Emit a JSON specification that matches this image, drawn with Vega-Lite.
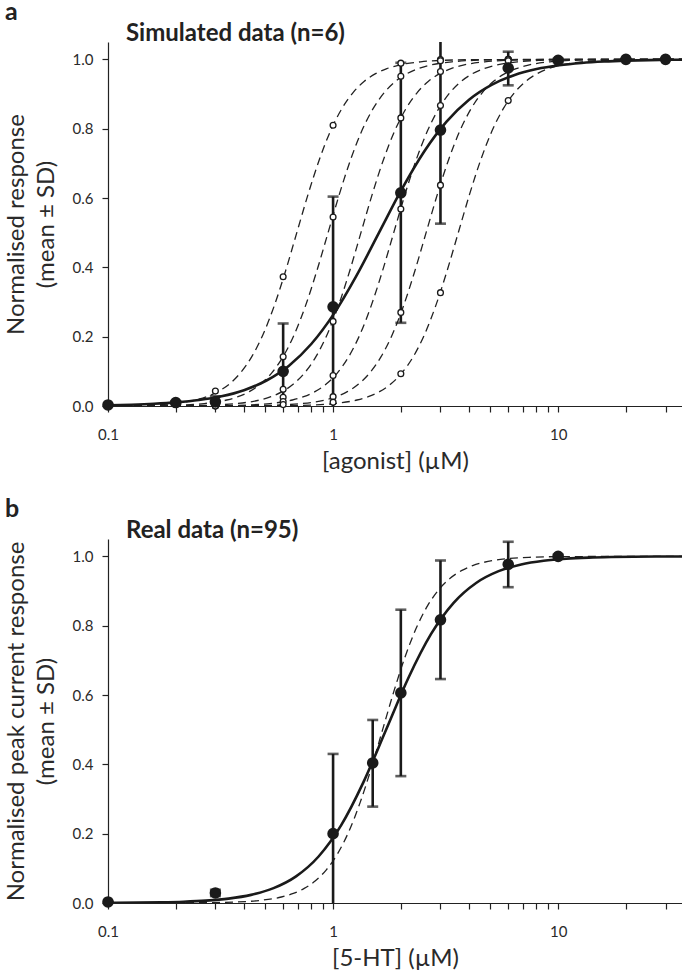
{
"$schema": "https://vega.github.io/schema/vega-lite/v6.json",
"padding": {"left": 4, "top": 0, "right": 0, "bottom": 0},
"background": "white",
"spacing": 24,
"config": {
  "font": "Lato",
  "view": {"stroke": null},
  "axis": {"grid": false, "domainColor": "#222", "tickColor": "#222", "labelColor": "#2a2a2a", "titleColor": "#2a2a2a", "labelFont": "Lato", "titleFont": "Lato", "labelFontSize": 15, "titleFontSize": 24, "titleFontWeight": "normal", "tickSize": 6, "domainWidth": 1.2, "tickWidth": 1.2},
  "title": {"font": "Lato", "color": "#222"}
},
"datasets": {
  "a_mean": [
    {"x":0.1,"y":0.003,"lo":0.003,"hi":0.003},
    {"x":0.2,"y":0.01,"lo":0.006,"hi":0.014},
    {"x":0.3,"y":0.012,"lo":-0.004,"hi":0.028},
    {"x":0.6,"y":0.1,"lo":-0.04,"hi":0.238},
    {"x":1,"y":0.286,"lo":-0.032,"hi":0.604},
    {"x":2,"y":0.615,"lo":0.24,"hi":0.99},
    {"x":3,"y":0.796,"lo":0.526,"hi":1.066},
    {"x":6,"y":0.975,"lo":0.925,"hi":1.022},
    {"x":10,"y":0.997,"lo":0.992,"hi":1.002},
    {"x":20,"y":1.0,"lo":1.0,"hi":1.0},
    {"x":30,"y":1.0,"lo":1.0,"hi":1.0}
  ],
  "a_ind": [
    {"x":0.3,"y":0.043},{"x":0.3,"y":0.011},{"x":0.3,"y":0.003},{"x":0.3,"y":0.001},{"x":0.3,"y":0.0},{"x":0.3,"y":0.0},
    {"x":0.6,"y":0.373},{"x":0.6,"y":0.142},{"x":0.6,"y":0.048},{"x":0.6,"y":0.025},{"x":0.6,"y":0.013},{"x":0.6,"y":0.004},
    {"x":1,"y":0.81},{"x":1,"y":0.545},{"x":1,"y":0.244},{"x":1,"y":0.088},{"x":1,"y":0.027},{"x":1,"y":0.011},
    {"x":2,"y":0.989},{"x":2,"y":0.951},{"x":2,"y":0.831},{"x":2,"y":0.568},{"x":2,"y":0.27},{"x":2,"y":0.093},
    {"x":3,"y":0.999},{"x":3,"y":0.996},{"x":3,"y":0.965},{"x":3,"y":0.867},{"x":3,"y":0.637},{"x":3,"y":0.327},
    {"x":6,"y":1.0},{"x":6,"y":1.0},{"x":6,"y":0.999},{"x":6,"y":0.996},{"x":6,"y":0.98},{"x":6,"y":0.881}
  ],
  "a_curves": [
    {"c":"A","x":0.1,"y":0.0005},{"c":"A","x":0.1094,"y":0.0008},{"c":"A","x":0.1545,"y":0.0029},{"c":"A","x":0.1944,"y":0.0071},{"c":"A","x":0.2448,"y":0.0173},{"c":"A","x":0.2747,"y":0.0268},{"c":"A","x":0.3082,"y":0.0414},{"c":"A","x":0.3458,"y":0.0633},{"c":"A","x":0.388,"y":0.0958},{"c":"A","x":0.4354,"y":0.1423},{"c":"A","x":0.4885,"y":0.2063},{"c":"A","x":0.5481,"y":0.2895},{"c":"A","x":0.615,"y":0.3896},{"c":"A","x":0.69,"y":0.5},{"c":"A","x":0.7742,"y":0.6104},{"c":"A","x":0.8686,"y":0.7105},{"c":"A","x":0.9746,"y":0.7937},{"c":"A","x":1.0936,"y":0.8577},{"c":"A","x":1.227,"y":0.9042},{"c":"A","x":1.3768,"y":0.9367},{"c":"A","x":1.5447,"y":0.9586},{"c":"A","x":1.7332,"y":0.9732},{"c":"A","x":1.9447,"y":0.9827},{"c":"A","x":2.4482,"y":0.9929},{"c":"A","x":3.0821,"y":0.9971},{"c":"A","x":4.3536,"y":0.9992},{"c":"A","x":40,"y":1.0},
    {"c":"B","x":0.1,"y":0.0},{"c":"B","x":0.1506,"y":0.0008},{"c":"B","x":0.2127,"y":0.0029},{"c":"B","x":0.2677,"y":0.0071},{"c":"B","x":0.3371,"y":0.0173},{"c":"B","x":0.3782,"y":0.0268},{"c":"B","x":0.4244,"y":0.0414},{"c":"B","x":0.4761,"y":0.0633},{"c":"B","x":0.5342,"y":0.0958},{"c":"B","x":0.5995,"y":0.1423},{"c":"B","x":0.6725,"y":0.2063},{"c":"B","x":0.7546,"y":0.2895},{"c":"B","x":0.8467,"y":0.3896},{"c":"B","x":0.95,"y":0.5},{"c":"B","x":1.0659,"y":0.6104},{"c":"B","x":1.196,"y":0.7105},{"c":"B","x":1.3419,"y":0.7937},{"c":"B","x":1.5057,"y":0.8577},{"c":"B","x":1.6894,"y":0.9042},{"c":"B","x":1.8955,"y":0.9367},{"c":"B","x":2.1268,"y":0.9586},{"c":"B","x":2.3863,"y":0.9732},{"c":"B","x":2.6775,"y":0.9827},{"c":"B","x":3.3707,"y":0.9929},{"c":"B","x":4.2435,"y":0.9971},{"c":"B","x":5.9941,"y":0.9992},{"c":"B","x":40,"y":1.0},
    {"c":"C","x":0.1,"y":0.0},{"c":"C","x":0.2108,"y":0.0008},{"c":"C","x":0.2978,"y":0.0029},{"c":"C","x":0.3748,"y":0.0071},{"c":"C","x":0.4719,"y":0.0173},{"c":"C","x":0.5295,"y":0.0268},{"c":"C","x":0.5941,"y":0.0414},{"c":"C","x":0.6666,"y":0.0633},{"c":"C","x":0.7479,"y":0.0958},{"c":"C","x":0.8392,"y":0.1423},{"c":"C","x":0.9415,"y":0.2063},{"c":"C","x":1.0564,"y":0.2895},{"c":"C","x":1.1854,"y":0.3896},{"c":"C","x":1.33,"y":0.5},{"c":"C","x":1.4923,"y":0.6104},{"c":"C","x":1.6743,"y":0.7105},{"c":"C","x":1.8786,"y":0.7937},{"c":"C","x":2.1079,"y":0.8577},{"c":"C","x":2.3651,"y":0.9042},{"c":"C","x":2.6537,"y":0.9367},{"c":"C","x":2.9775,"y":0.9586},{"c":"C","x":3.3408,"y":0.9732},{"c":"C","x":3.7485,"y":0.9827},{"c":"C","x":4.719,"y":0.9929},{"c":"C","x":5.9408,"y":0.9971},{"c":"C","x":8.3918,"y":0.9992},{"c":"C","x":40,"y":1.0},
    {"c":"D","x":0.1,"y":0.0},{"c":"D","x":0.2948,"y":0.0008},{"c":"D","x":0.4165,"y":0.0029},{"c":"D","x":0.5241,"y":0.0071},{"c":"D","x":0.6599,"y":0.0173},{"c":"D","x":0.7405,"y":0.0268},{"c":"D","x":0.8309,"y":0.0414},{"c":"D","x":0.9322,"y":0.0633},{"c":"D","x":1.0459,"y":0.0958},{"c":"D","x":1.1737,"y":0.1423},{"c":"D","x":1.3167,"y":0.2063},{"c":"D","x":1.4774,"y":0.2895},{"c":"D","x":1.6578,"y":0.3896},{"c":"D","x":1.86,"y":0.5},{"c":"D","x":2.0869,"y":0.6104},{"c":"D","x":2.3416,"y":0.7105},{"c":"D","x":2.6273,"y":0.7937},{"c":"D","x":2.9479,"y":0.8577},{"c":"D","x":3.3076,"y":0.9042},{"c":"D","x":3.7113,"y":0.9367},{"c":"D","x":4.164,"y":0.9586},{"c":"D","x":4.6721,"y":0.9732},{"c":"D","x":5.2422,"y":0.9827},{"c":"D","x":6.5995,"y":0.9929},{"c":"D","x":8.3082,"y":0.9971},{"c":"D","x":11.7359,"y":0.9992},{"c":"D","x":40,"y":1.0},
    {"c":"E","x":0.1,"y":0.0},{"c":"E","x":0.4105,"y":0.0008},{"c":"E","x":0.5799,"y":0.0029},{"c":"E","x":0.7299,"y":0.0071},{"c":"E","x":0.9189,"y":0.0173},{"c":"E","x":1.0311,"y":0.0268},{"c":"E","x":1.157,"y":0.0414},{"c":"E","x":1.2981,"y":0.0633},{"c":"E","x":1.4564,"y":0.0958},{"c":"E","x":1.6343,"y":0.1423},{"c":"E","x":1.8335,"y":0.2063},{"c":"E","x":2.0572,"y":0.2895},{"c":"E","x":2.3085,"y":0.3896},{"c":"E","x":2.59,"y":0.5},{"c":"E","x":2.906,"y":0.6104},{"c":"E","x":3.2606,"y":0.7105},{"c":"E","x":3.6584,"y":0.7937},{"c":"E","x":4.1049,"y":0.8577},{"c":"E","x":4.6058,"y":0.9042},{"c":"E","x":5.1678,"y":0.9367},{"c":"E","x":5.7982,"y":0.9586},{"c":"E","x":6.5058,"y":0.9732},{"c":"E","x":7.2997,"y":0.9827},{"c":"E","x":9.1896,"y":0.9929},{"c":"E","x":11.569,"y":0.9971},{"c":"E","x":16.3419,"y":0.9992},{"c":"E","x":40,"y":1.0},
    {"c":"F","x":0.1,"y":0.0},{"c":"F","x":0.5706,"y":0.0008},{"c":"F","x":0.806,"y":0.0029},{"c":"F","x":1.0145,"y":0.0071},{"c":"F","x":1.2773,"y":0.0173},{"c":"F","x":1.4332,"y":0.0268},{"c":"F","x":1.6081,"y":0.0414},{"c":"F","x":1.8043,"y":0.0633},{"c":"F","x":2.0243,"y":0.0958},{"c":"F","x":2.2716,"y":0.1423},{"c":"F","x":2.5484,"y":0.2063},{"c":"F","x":2.8595,"y":0.2895},{"c":"F","x":3.2087,"y":0.3896},{"c":"F","x":3.6,"y":0.5},{"c":"F","x":4.0392,"y":0.6104},{"c":"F","x":4.532,"y":0.7105},{"c":"F","x":5.085,"y":0.7937},{"c":"F","x":5.7056,"y":0.8577},{"c":"F","x":6.4019,"y":0.9042},{"c":"F","x":7.1831,"y":0.9367},{"c":"F","x":8.0593,"y":0.9586},{"c":"F","x":9.0428,"y":0.9732},{"c":"F","x":10.1462,"y":0.9827},{"c":"F","x":12.7732,"y":0.9929},{"c":"F","x":16.0805,"y":0.9971},{"c":"F","x":22.7146,"y":0.9992},{"c":"F","x":40,"y":1.0}
  ],
  "a_fit": [
    {"x":0.0802,"y":0.0014},{"x":0.101,"y":0.0023},{"x":0.1271,"y":0.0038},{"x":0.16,"y":0.0063},{"x":0.2014,"y":0.0104},{"x":0.2536,"y":0.0171},{"x":0.3192,"y":0.028},{"x":0.4019,"y":0.0457},{"x":0.506,"y":0.0736},{"x":0.637,"y":0.1164},{"x":0.8019,"y":0.1795},{"x":1.0095,"y":0.2664},{"x":1.2709,"y":0.376},{"x":1.6,"y":0.5},{"x":2.0143,"y":0.624},{"x":2.5358,"y":0.7336},{"x":3.1925,"y":0.8205},{"x":4.019,"y":0.8836},{"x":5.0597,"y":0.9264},{"x":6.3698,"y":0.9543},{"x":8.019,"y":0.972},{"x":10.0954,"y":0.9829},{"x":12.709,"y":0.9896},{"x":16.0,"y":0.9937},{"x":20.143,"y":0.9962},{"x":25.358,"y":0.9977},{"x":31.925,"y":0.9986},{"x":40.19,"y":0.9992}
  ],
  "b_mean": [
    {"x":0.1,"y":0.003,"lo":0.003,"hi":0.003},
    {"x":0.3,"y":0.029,"lo":0.02,"hi":0.038},
    {"x":1,"y":0.2,"lo":-0.03,"hi":0.43},
    {"x":1.5,"y":0.404,"lo":0.278,"hi":0.528},
    {"x":2,"y":0.606,"lo":0.366,"hi":0.846},
    {"x":3,"y":0.817,"lo":0.646,"hi":0.988},
    {"x":6,"y":0.977,"lo":0.911,"hi":1.042},
    {"x":10,"y":1.0,"lo":0.995,"hi":1.005}
  ],
  "b_dash": [
    {"x":0.1,"y":0.0},{"x":0.2631,"y":0.0008},{"x":0.3717,"y":0.0029},{"x":0.4678,"y":0.0071},{"x":0.589,"y":0.0173},{"x":0.6608,"y":0.0268},{"x":0.7415,"y":0.0414},{"x":0.832,"y":0.0633},{"x":0.9334,"y":0.0958},{"x":1.0475,"y":0.1423},{"x":1.1751,"y":0.2063},{"x":1.3185,"y":0.2895},{"x":1.4796,"y":0.3896},{"x":1.66,"y":0.5},{"x":1.8625,"y":0.6104},{"x":2.0898,"y":0.7105},{"x":2.3448,"y":0.7937},{"x":2.6309,"y":0.8577},{"x":2.952,"y":0.9042},{"x":3.3122,"y":0.9367},{"x":3.7162,"y":0.9586},{"x":4.1698,"y":0.9732},{"x":4.6785,"y":0.9827},{"x":5.8898,"y":0.9929},{"x":7.4149,"y":0.9971},{"x":10.4739,"y":0.9992},{"x":40,"y":1.0}
  ],
  "b_fit": [
    {"x":0.0862,"y":0.0003},{"x":0.1086,"y":0.0006},{"x":0.1366,"y":0.0011},{"x":0.172,"y":0.002},{"x":0.2165,"y":0.0037},{"x":0.2726,"y":0.0069},{"x":0.3431,"y":0.0127},{"x":0.4321,"y":0.0234},{"x":0.5439,"y":0.0428},{"x":0.6847,"y":0.0768},{"x":0.8621,"y":0.1341},{"x":1.0853,"y":0.2238},{"x":1.3662,"y":0.3494},{"x":1.72,"y":0.5},{"x":2.1653,"y":0.6506},{"x":2.726,"y":0.7762},{"x":3.4319,"y":0.8659},{"x":4.3205,"y":0.9232},{"x":5.4392,"y":0.9572},{"x":6.8475,"y":0.9766},{"x":8.6205,"y":0.9873},{"x":10.853,"y":0.9931},{"x":13.662,"y":0.9963},{"x":17.2,"y":0.998},{"x":21.653,"y":0.9989},{"x":27.26,"y":0.9994},{"x":34.32,"y":0.9997},{"x":43.2,"y":0.9998}
  ]
},
"vconcat": [
  {
    "title": {"text": "a", "anchor": "start", "frame": "bounds", "fontSize": 25, "fontWeight": "bold", "offset": -3, "dx": 1},
    "vconcat": [
      {
        "width": 574, "height": 364,
        "title": {"text": "Simulated data (n=6)", "anchor": "start", "frame": "group", "dx": 18, "fontSize": 24, "fontWeight": "bold", "offset": -4},
        "encoding": {
          "x": {"field": "x", "type": "quantitative", "scale": {"type": "log", "domain": [0.1, 35.5], "nice": false},
                "axis": {"title": "[agonist] (µM)", "values": [0.1,0.2,0.3,0.4,0.5,0.6,0.7,0.8,0.9,1,2,3,4,5,6,7,8,9,10,20,30], "labelExpr": "datum.value == 0.1 ? '0.1' : datum.value == 1 ? '1' : datum.value == 10 ? '10' : ''", "labelOverlap": false, "labelFlush": false, "labelPadding": 15, "titlePadding": 7}},
          "y": {"field": "y", "type": "quantitative", "scale": {"domain": [0, 1.05], "nice": false, "zero": false},
                "axis": {"title": ["Normalised response", "(mean ± SD)"], "values": [0, 0.2, 0.4, 0.6, 0.8, 1.0], "format": ".1f", "labelPadding": 9, "titlePadding": 14, "titleLineHeight": 30}}
        },
        "layer": [
          {"data": {"name": "a_curves"},
           "mark": {"type": "line", "clip": true, "color": "#222", "strokeWidth": 1.3, "strokeDash": [8, 5], "interpolate": "monotone"},
           "encoding": {"detail": {"field": "c"}}},
          {"data": {"name": "a_fit"},
           "mark": {"type": "line", "clip": true, "color": "#1a1a1a", "strokeWidth": 2.6, "interpolate": "monotone"}},
          {"data": {"name": "a_mean"},
           "mark": {"type": "rule", "clip": true, "color": "#1a1a1a", "strokeWidth": 2.6},
           "encoding": {"y": {"field": "lo", "type": "quantitative", "scale": {"domain": [0, 1.05], "nice": false, "zero": false}, "axis": {"title": ["Normalised response", "(mean ± SD)"], "values": [0, 0.2, 0.4, 0.6, 0.8, 1.0], "format": ".1f", "labelPadding": 9, "titlePadding": 14, "titleLineHeight": 30}}, "y2": {"field": "hi"}}},
          {"data": {"name": "a_mean"},
           "mark": {"type": "tick", "orient": "horizontal", "clip": true, "color": "#1a1a1a", "size": 11, "thickness": 2.6},
           "encoding": {"y": {"field": "lo", "type": "quantitative", "scale": {"domain": [0, 1.05], "nice": false, "zero": false}, "axis": {"title": ["Normalised response", "(mean ± SD)"], "values": [0, 0.2, 0.4, 0.6, 0.8, 1.0], "format": ".1f", "labelPadding": 9, "titlePadding": 14, "titleLineHeight": 30}}}},
          {"data": {"name": "a_mean"},
           "mark": {"type": "tick", "orient": "horizontal", "clip": true, "color": "#1a1a1a", "size": 11, "thickness": 2.6},
           "encoding": {"y": {"field": "hi", "type": "quantitative", "scale": {"domain": [0, 1.05], "nice": false, "zero": false}, "axis": {"title": ["Normalised response", "(mean ± SD)"], "values": [0, 0.2, 0.4, 0.6, 0.8, 1.0], "format": ".1f", "labelPadding": 9, "titlePadding": 14, "titleLineHeight": 30}}}},
          {"data": {"name": "a_ind"},
           "mark": {"type": "point", "shape": "circle", "filled": false, "fill": "white", "fillOpacity": 1, "stroke": "#1a1a1a", "strokeWidth": 1.3, "size": 34, "opacity": 1}},
          {"data": {"name": "a_mean"},
           "mark": {"type": "circle", "color": "#1a1a1a", "size": 135, "opacity": 1}}
        ]
      }
    ]
  },
  {
    "title": {"text": "b", "anchor": "start", "frame": "bounds", "fontSize": 25, "fontWeight": "bold", "offset": -3, "dx": 1},
    "vconcat": [
      {
        "width": 574, "height": 364,
        "title": {"text": "Real data (n=95)", "anchor": "start", "frame": "group", "dx": 18, "fontSize": 24, "fontWeight": "bold", "offset": -4},
        "encoding": {
          "x": {"field": "x", "type": "quantitative", "scale": {"type": "log", "domain": [0.1, 35.5], "nice": false},
                "axis": {"title": "[5-HT] (µM)", "values": [0.1,0.2,0.3,0.4,0.5,0.6,0.7,0.8,0.9,1,2,3,4,5,6,7,8,9,10,20,30], "labelExpr": "datum.value == 0.1 ? '0.1' : datum.value == 1 ? '1' : datum.value == 10 ? '10' : ''", "labelOverlap": false, "labelFlush": false, "labelPadding": 15, "titlePadding": 7}},
          "y": {"field": "y", "type": "quantitative", "scale": {"domain": [0, 1.05], "nice": false, "zero": false},
                "axis": {"title": ["Normalised peak current response", "(mean ± SD)"], "values": [0, 0.2, 0.4, 0.6, 0.8, 1.0], "format": ".1f", "labelPadding": 9, "titlePadding": 14, "titleLineHeight": 30}}
        },
        "layer": [
          {"data": {"name": "b_dash"},
           "mark": {"type": "line", "clip": true, "color": "#222", "strokeWidth": 1.3, "strokeDash": [8, 5], "interpolate": "monotone"}},
          {"data": {"name": "b_fit"},
           "mark": {"type": "line", "clip": true, "color": "#1a1a1a", "strokeWidth": 2.6, "interpolate": "monotone"}},
          {"data": {"name": "b_mean"},
           "mark": {"type": "rule", "clip": true, "color": "#1a1a1a", "strokeWidth": 2.6},
           "encoding": {"y": {"field": "lo", "type": "quantitative", "scale": {"domain": [0, 1.05], "nice": false, "zero": false}, "axis": {"title": ["Normalised peak current response", "(mean ± SD)"], "values": [0, 0.2, 0.4, 0.6, 0.8, 1.0], "format": ".1f", "labelPadding": 9, "titlePadding": 14, "titleLineHeight": 30}}, "y2": {"field": "hi"}}},
          {"data": {"name": "b_mean"},
           "mark": {"type": "tick", "orient": "horizontal", "clip": true, "color": "#1a1a1a", "size": 11, "thickness": 2.6},
           "encoding": {"y": {"field": "lo", "type": "quantitative", "scale": {"domain": [0, 1.05], "nice": false, "zero": false}, "axis": {"title": ["Normalised peak current response", "(mean ± SD)"], "values": [0, 0.2, 0.4, 0.6, 0.8, 1.0], "format": ".1f", "labelPadding": 9, "titlePadding": 14, "titleLineHeight": 30}}}},
          {"data": {"name": "b_mean"},
           "mark": {"type": "tick", "orient": "horizontal", "clip": true, "color": "#1a1a1a", "size": 11, "thickness": 2.6},
           "encoding": {"y": {"field": "hi", "type": "quantitative", "scale": {"domain": [0, 1.05], "nice": false, "zero": false}, "axis": {"title": ["Normalised peak current response", "(mean ± SD)"], "values": [0, 0.2, 0.4, 0.6, 0.8, 1.0], "format": ".1f", "labelPadding": 9, "titlePadding": 14, "titleLineHeight": 30}}}},
          {"data": {"name": "b_mean"},
           "mark": {"type": "circle", "color": "#1a1a1a", "size": 135, "opacity": 1}}
        ]
      }
    ]
  }
]
}
